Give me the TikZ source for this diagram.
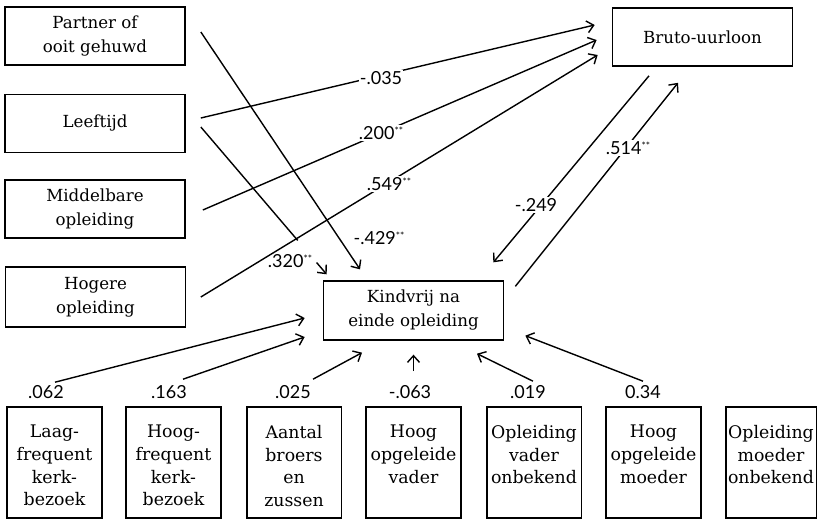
\documentclass[tikz,border=0pt]{standalone}
\usepackage{fontspec}
\setmainfont{DejaVu Serif}
\newfontfamily\numfont{Lato}
\usetikzlibrary{arrows.meta,calc}
\newcommand\boxfont{\fontsize{12.5}{18}\selectfont}
\newcommand\btmfont{\fontsize{13}{17}\selectfont}
\newcommand\lblfont{\numfont\fontsize{13.5}{15}\selectfont}
\newcommand\sig{\raisebox{4pt}{\fontsize{7.5}{7.5}\selectfont **}}
\newcommand\bxt[2][69pt]{\parbox[t][80pt][t]{#1}{\centering\btmfont\vspace*{12pt}#2}}
\begin{document}
\begin{tikzpicture}[x=0.75pt,y=-0.75pt,
  lbox/.style={draw, line width=1.25pt, align=center, font=\boxfont,
    minimum width=135pt, minimum height=43.5pt, inner sep=1pt},
  bbox/.style={draw, line width=1.25pt, inner xsep=1pt, inner ysep=1.6pt},
  ln/.style={line width=1.05pt},
  arr/.style={ln, -{Straight Barb[length=5pt,width=9pt]}},
  lbl/.style={font=\lblfont, inner sep=1pt},
  lblw/.style={lbl, fill=white}]
\useasboundingbox (0,0) rectangle (820,520);

% boxes
\node[lbox] (partner) at (95,36) {Partner of\\ooit gehuwd};
\node[lbox] (leef) at (95,123.5) {Leeftijd};
\node[lbox] (mid) at (95,209) {Middelbare\\opleiding};
\node[lbox, minimum height=45pt] (hog) at (95.5,297) {Hogere\\opleiding};
\node[lbox] (bruto) at (702.5,37) {Bruto-uurloon};
\node[lbox, minimum height=44pt] (kind) at (413.5,310.5) {Kindvrij na\\einde opleiding};

\node[bbox] (b1) at (54.5,462.5) {\bxt{Laag-\\frequent\\kerk-\\bezoek}};
\node[bbox] (b2) at (173.5,462.5) {\bxt{Hoog-\\frequent\\kerk-\\bezoek}};
\node[bbox] (b3) at (294,462.5) {\bxt{Aantal\\broers\\en\\zussen}};
\node[bbox] (b4) at (413.5,462.5) {\bxt{Hoog\\opgeleide\\vader}};
\node[bbox] (b5) at (534,462.5) {\bxt{Opleiding\\vader\\onbekend}};
\node[bbox] (b6) at (653.5,462.5) {\bxt{Hoog\\opgeleide\\moeder}};
\node[bbox] (b7) at (771,462.5) {\bxt[66pt]{Opleiding\\moeder\\onbekend}};

% connector end points
\coordinate (pa-k) at ($(partner.east)+(15,-4)$);
\coordinate (le-k) at ($(leef.east)+(15,3.5)$);
\coordinate (le-b) at ($(leef.east)+(15,-5.5)$);
\coordinate (mi-b) at ($(mid.east)+(17,1)$);
\coordinate (ho-b) at ($(hog.east)+(14.5,0)$);
\coordinate (br-le) at ($(bruto.west)+(-17,-12)$);
\coordinate (br-mi) at ($(bruto.west)+(-15,3)$);
\coordinate (br-ho) at ($(bruto.west)+(-14,18)$);
\coordinate (br-out) at ($(bruto.south)+(-53.5,9)$);
\coordinate (br-in) at ($(bruto.south)+(-24.5,16)$);
\coordinate (ki-pa) at ($(kind.north)+(-53.5,-11)$);
\coordinate (ki-le) at ($(kind.north west)+(4,-6)$);
\coordinate (ki-br) at ($(kind.north east)+(-11,-18)$);
\coordinate (ki-out) at ($(kind.north east)+(11,6)$);
\coordinate (ki-1) at ($(kind.west)+(-18,7.5)$);
\coordinate (ki-2) at ($(kind.west)+(-18,26.5)$);
\coordinate (ki-3) at ($(kind.south)+(-51.5,12)$);
\coordinate (ki-4) at ($(kind.south)+(0,14)$);
\coordinate (ki-5) at ($(kind.south)+(63.5,13)$);
\coordinate (ki-6) at ($(kind.south east)+(21,-5)$);
\coordinate (b1-o) at ($(b1.north)+(0.5,-24)$);
\coordinate (b2-o) at ($(b2.north)+(9.5,-27)$);
\coordinate (b3-o) at ($(b3.north)+(19,-27)$);
\coordinate (b4-o) at ($(b4.north)+(0,-35)$);
\coordinate (b5-o) at ($(b5.north)+(-1,-25)$);
\coordinate (b6-o) at ($(b6.north)+(-10.5,-25)$);

% connectors
\draw[arr] (pa-k) -- (ki-pa);
\draw[ln] (le-k) -- ($(le-k)!0.77!(ki-le)$);
\draw[arr] ($(le-k)!0.92!(ki-le)$) -- (ki-le);
\draw[arr] (le-b) -- (br-le);
\draw[arr] (mi-b) -- (br-mi);
\draw[arr] (ho-b) -- (br-ho);
\draw[arr] (br-out) -- (ki-br);
\draw[arr] (ki-out) -- (br-in);
\draw[arr] (b1-o) -- (ki-1);
\draw[arr] (b2-o) -- (ki-2);
\draw[arr] (b3-o) -- (ki-3);
\draw[arr] (b4-o) -- (ki-4);
\draw[arr] (b5-o) -- (ki-5);
\draw[arr] (b6-o) -- (ki-6);

% labels
\node[lbl] (l429) at (379,238) {-.429\sig};
\node[lbl] (l320) at (290,261) {.320\sig};
\node[lblw] (l035) at (381,78) {-.035};
\node[lblw] (l200) at (381,133) {.200\sig};
\node[lblw] (l549) at (389,184) {.549\sig};
\node[lblw] (l249) at (536,205) {-.249};
\node[lblw] (l514) at (628,148) {.514\sig};
\node[lbl] (l062) at (46,392) {.062};
\node[lbl] (l163) at (169,392) {.163};
\node[lbl] (l025) at (293,392) {.025};
\node[lbl] (l063) at (410,392) {-.063};
\node[lbl] (l019) at (528,392) {.019};
\node[lbl] (l034) at (643,392) {0.34};
\end{tikzpicture}
\end{document}
